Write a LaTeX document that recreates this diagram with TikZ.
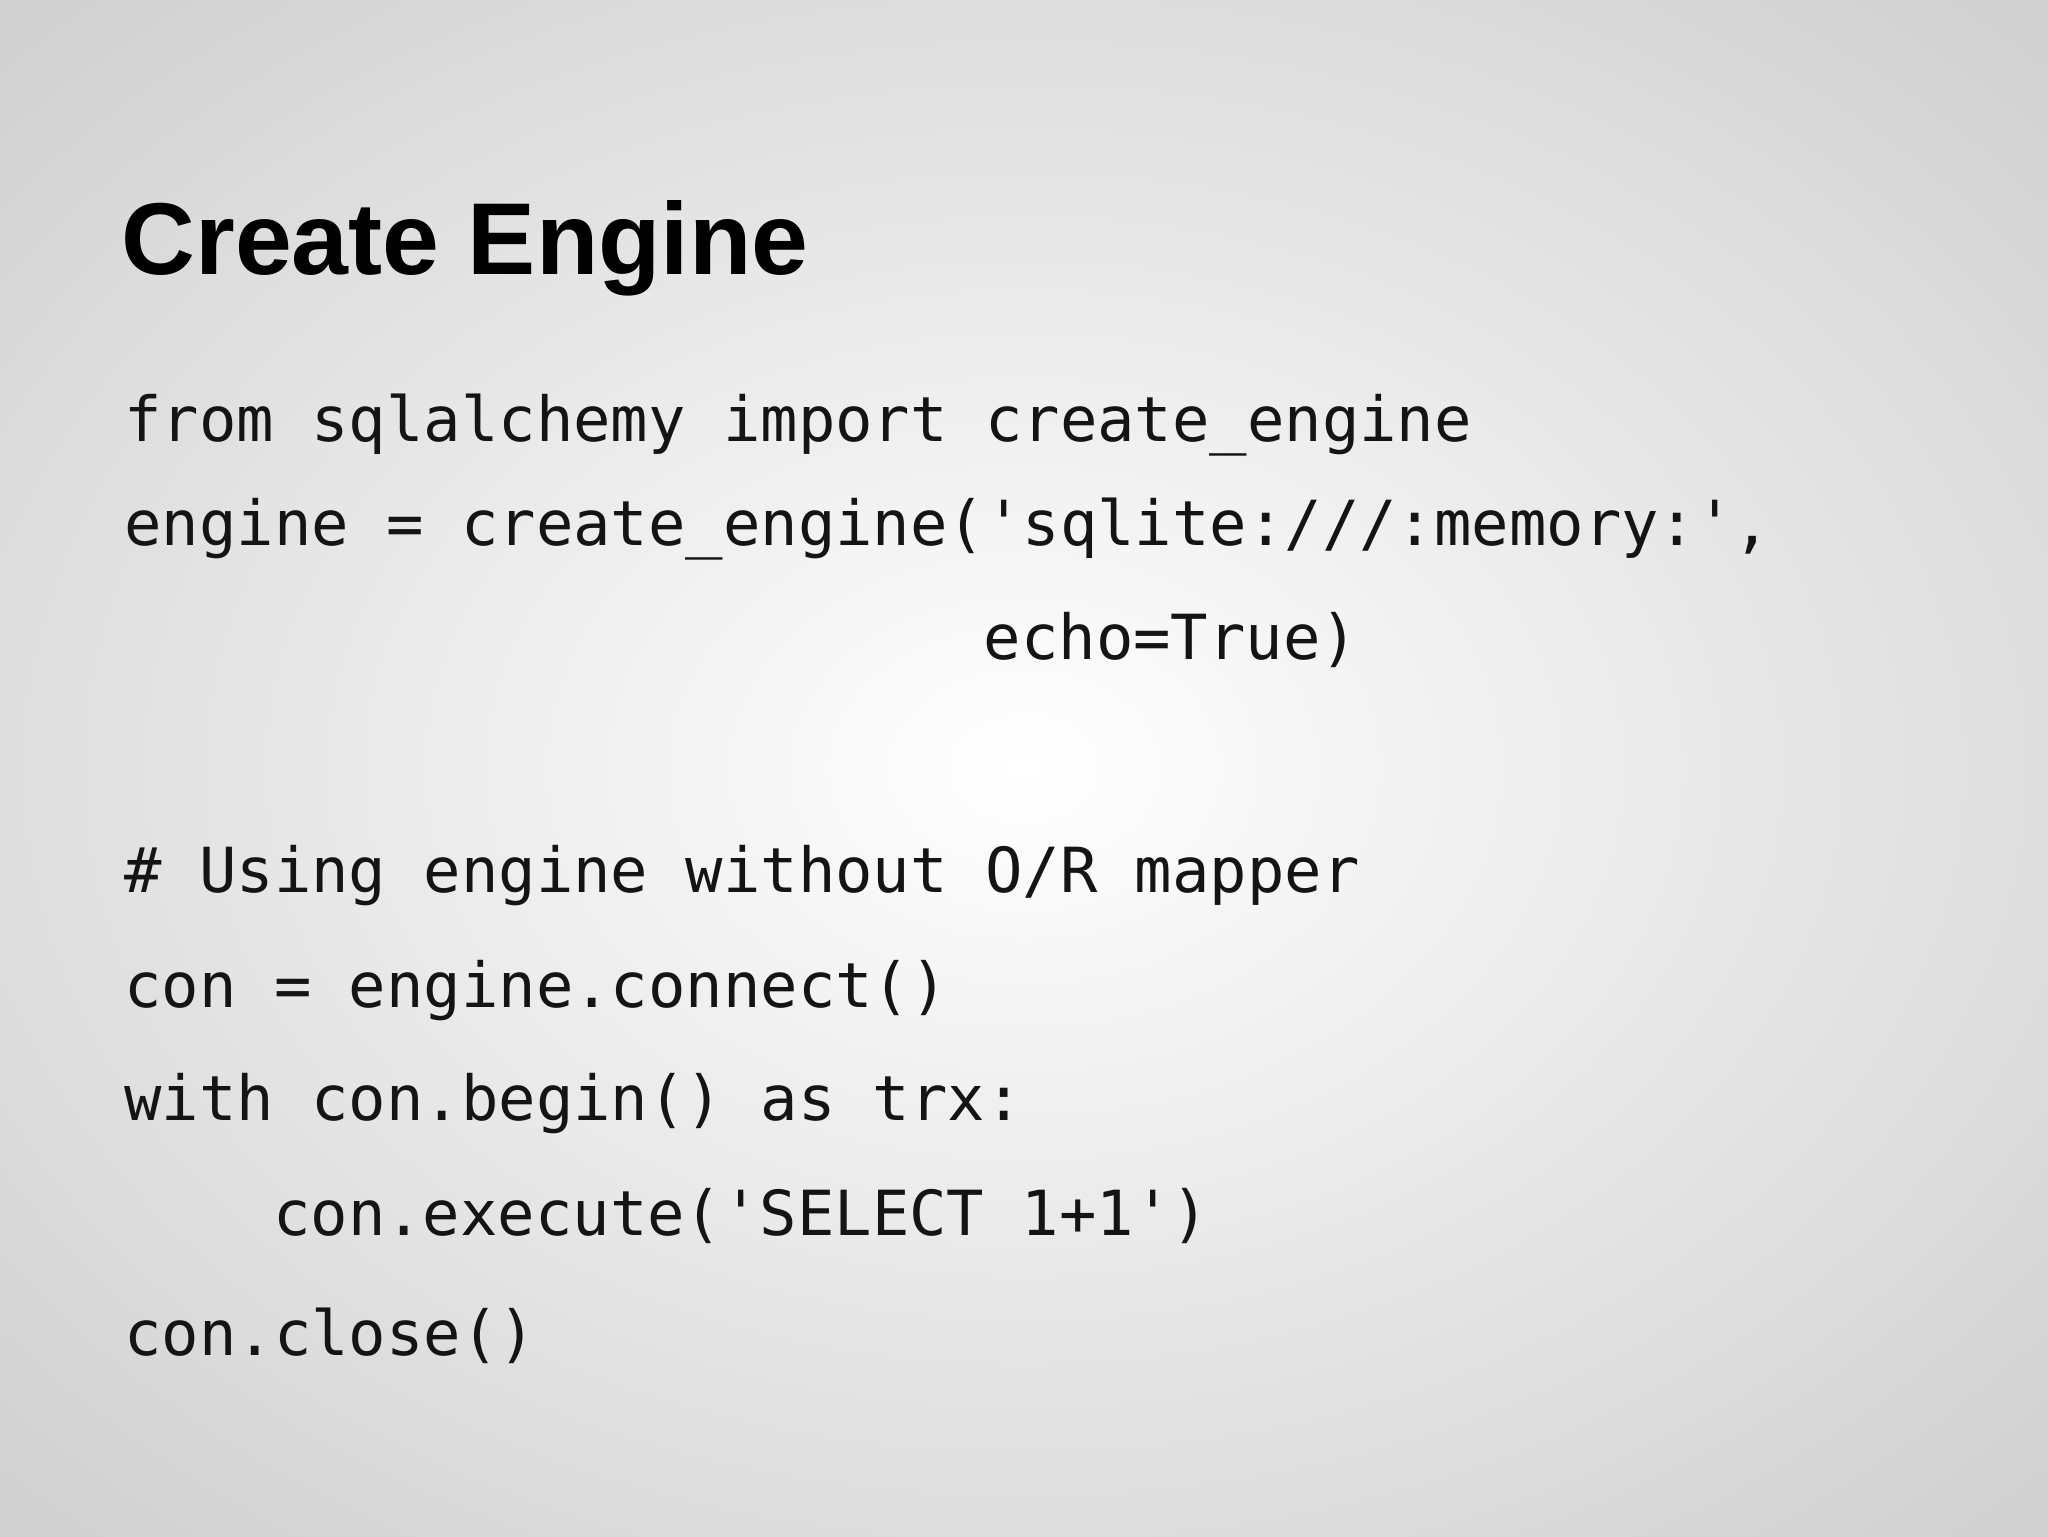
\documentclass[tikz,border=0pt]{standalone}
\usepackage{fontspec}
\setmainfont{Liberation Sans}
\setmonofont{DejaVu Sans Mono}
\begin{document}
\begin{tikzpicture}[x=1pt,y=1pt,
  code/.style={anchor=base west,inner sep=0pt,font=\ttfamily\fontsize{47.6}{50}\selectfont,text=black!92},
  ttl/.style={anchor=base west,inner sep=0pt,font=\bfseries\fontsize{78.2}{80}\selectfont,text=black}]
\useasboundingbox (0,0) rectangle (1568,-1176);
\shade[inner color=white,outer color=black!18] (-300,200) rectangle (1868,-1376);
\node[ttl] (title) at (93,-210) {Create Engine};
\node[code] (l1) at (95,-338) {from sqlalchemy import create\_engine};
\node[code] (l2) at (95,-418) {engine = create\_engine('sqlite:///:memory:',};
\node[code] (l3) at (753,-505) {echo=True)};
\node[code] (l4) at (95,-683) {\# Using engine without O/R mapper};
\node[code] (l5) at (95,-771) {con = engine.connect()};
\node[code] (l6) at (95,-858) {with con.begin() as trx:};
\node[code] (l7) at (209,-946) {con.execute('SELECT 1+1')};
\node[code] (l8) at (95,-1038) {con.close()};
\end{tikzpicture}
\end{document}
